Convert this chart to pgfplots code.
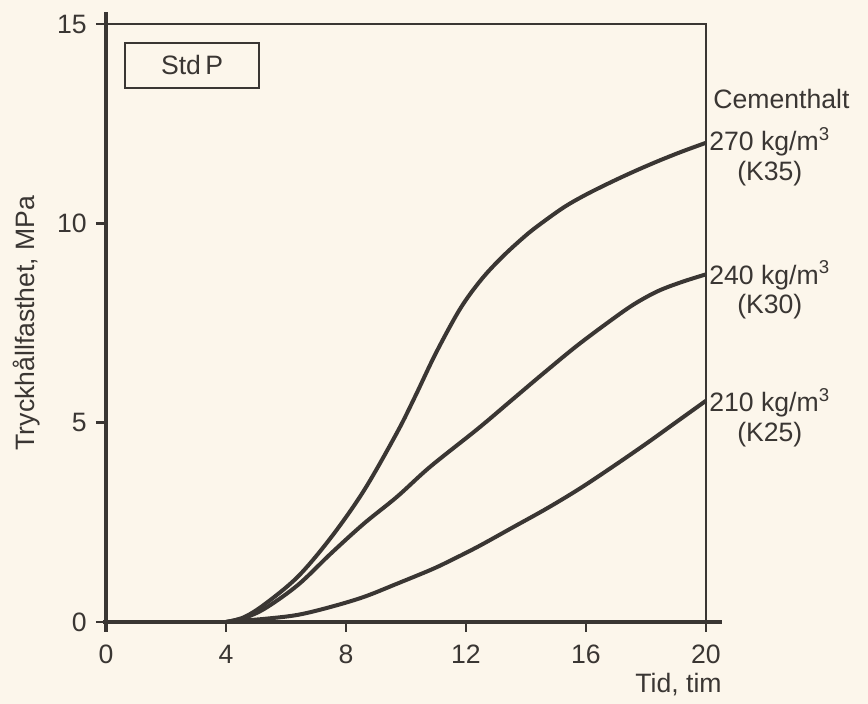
\documentclass[border=0pt]{standalone}
\usepackage{pgfplots}
\pgfplotsset{compat=1.18}
\usepackage{fontspec}
\setmainfont{Liberation Sans}
\definecolor{bg}{RGB}{252,246,235}
\definecolor{ink}{RGB}{58,54,51}
\begin{document}%
\fontsize{13.3}{15}\selectfont%
\begin{tikzpicture}
\path[fill=bg, use as bounding box] (-53pt,-41pt) rectangle (381pt,311pt);
\begin{axis}[
  at={(0pt,0pt)}, anchor=south west,
  scale only axis, width=300pt, height=299pt,
  xmin=0, xmax=20, ymin=0, ymax=15,
  axis x line=bottom, axis y line=left,
  x axis line style={-, line width=2pt, color=ink, shorten <=-1.5pt, shorten >=-8pt},
  y axis line style={-, line width=2pt, color=ink, shorten <=-5pt, shorten >=-6pt},
  xtick={0,4,8,12,16,20}, ytick={0,5,10,15},
  tick align=outside,
  major tick length=5pt,
  tick style={line width=1.4pt, color=ink},
  xticklabel style={yshift=-2pt, text=ink},
  yticklabel style={text=ink},
  /pgf/number format/assume math mode=true,
  clip=false,
]
\draw[line width=0.75pt, color=ink] (rel axis cs:0,1) -- (rel axis cs:1,1) -- (rel axis cs:1,0);
\addplot[smooth, tension=0.55, line width=2pt, color=ink] coordinates {
(4,0) (4.6,0.12) (5.3,0.45) (6.4,1.14) (7.5,2.12) (8.6,3.3) (9.7,4.75) (10.3,5.65) (11.0,6.75) (11.8,7.85) (12.5,8.58) (13.2,9.15) (14,9.7) (14.6,10.05) (15.3,10.42) (16,10.72) (16.8,11.02) (17.6,11.3) (18.4,11.56) (19.2,11.8) (20,12.02)
};
\addplot[smooth, tension=0.55, line width=2pt, color=ink] coordinates {
(4,0) (4.6,0.1) (5.3,0.34) (6.4,0.93) (7.5,1.72) (8.6,2.47) (9.7,3.14) (10.8,3.89) (12.4,4.85) (13.5,5.55) (14.6,6.25) (15.7,6.93) (16.8,7.55) (17.6,7.97) (18.4,8.3) (19.2,8.53) (20,8.72)
};
\addplot[smooth, tension=0.55, line width=2pt, color=ink] coordinates {
(4,0) (5.3,0.08) (6.4,0.18) (7.5,0.38) (8.6,0.63) (9.7,0.96) (10.8,1.3) (11.4,1.51) (12.4,1.89) (13.6,2.39) (14.7,2.85) (15.8,3.35) (16.9,3.9) (18,4.47) (19,5.01) (20,5.55)
};
\node[draw=ink, line width=0.6pt, minimum width=67pt, minimum height=22.5pt, text=ink, inner sep=0pt] at (axis cs:2.87,13.96) {Std\,P};
\node[rotate=90, text=ink] at ([xshift=-39.5pt]rel axis cs:0,0.5) {Tryckhållfasthet, MPa};
\node[anchor=east, inner sep=0pt, text=ink] at ([yshift=-31.5pt]rel axis cs:1.0267,0) {Tid, tim};
\node[anchor=west, inner sep=0pt, text=ink] at ([xshift=3.5pt]axis cs:20,13.11) {Cementhalt};
\node[anchor=west, inner sep=0pt, text=ink] (a) at ([xshift=1.5pt]axis cs:20,12.05) {270 kg/m\textsuperscript{3}};
\node[anchor=north, inner sep=0pt, text=ink] at ([yshift=-2pt]a.south) {(K35)};
\node[anchor=west, inner sep=0pt, text=ink] (b) at ([xshift=1.5pt]axis cs:20,8.7) {240 kg/m\textsuperscript{3}};
\node[anchor=north, inner sep=0pt, text=ink] at ([yshift=-2pt]b.south) {(K30)};
\node[anchor=west, inner sep=0pt, text=ink] (c) at ([xshift=1.5pt]axis cs:20,5.5) {210 kg/m\textsuperscript{3}};
\node[anchor=north, inner sep=0pt, text=ink] at ([yshift=-2pt]c.south) {(K25)};
\end{axis}
\end{tikzpicture}%
\end{document}
